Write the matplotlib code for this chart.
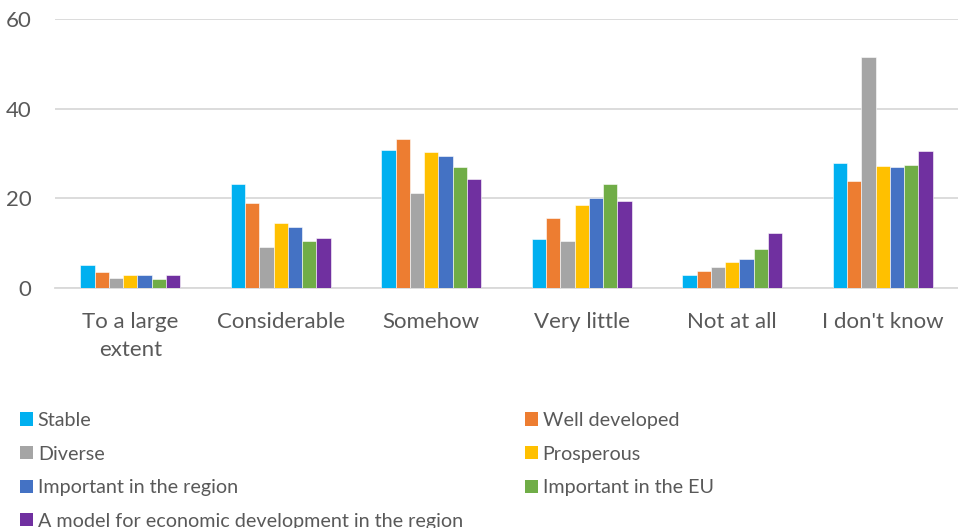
import matplotlib
matplotlib.use("Agg")
import matplotlib.pyplot as plt
import numpy as np
from matplotlib.patches import Patch

categories = ["To a large\nextent", "Considerable", "Somehow", "Very little", "Not at all", "I don't know"]
series_names = ["Stable", "Well developed", "Diverse", "Prosperous",
                "Important in the region", "Important in the EU",
                "A model for economic development in the region"]
stable       = [5.1, 23.1, 30.8, 10.9, 2.8, 27.8]
well_dev     = [3.6, 18.9, 33.3, 15.6, 3.8, 23.9]
diverse      = [2.2,  9.2, 21.1, 10.5, 4.7, 51.6]
prosperous   = [2.8, 14.4, 30.3, 18.6, 5.8, 27.3]
imp_region   = [2.8, 13.6, 29.5, 20.1, 6.4, 27.0]
imp_eu       = [2.0, 10.4, 27.1, 23.3, 8.7, 27.4]
model_dev    = [2.8, 11.1, 24.4, 19.3, 12.2, 30.5]
yticks = [0, 20, 40, 60]

colors = ["#00B0F0", "#ED7D31", "#A5A5A5", "#FFC000", "#4472C4", "#70AD47", "#7030A0"]
series = [stable, well_dev, diverse, prosperous, imp_region, imp_eu, model_dev]

plt.rcParams['font.family'] = ['Lato', 'DejaVu Sans']
fig = plt.figure(figsize=(9.58, 5.28), dpi=100)
ax = fig.add_axes([55/958, 1-288/528, 903/958, (288-19)/528])

x = np.arange(len(categories))
n = len(series)
bw = 0.095
for i, (vals, c) in enumerate(zip(series, colors)):
    ax.bar(x + (i - (n-1)/2) * bw, vals, bw, color=c, edgecolor='white', linewidth=0.4, zorder=3)

ax.set_xlim(-0.5, len(categories) - 0.5)
ax.set_ylim(0, 60)
ax.set_yticks(yticks)
ax.set_xticks(x)
ax.set_xticklabels(categories, fontsize=16, color='#595959', linespacing=1.5)
ax.tick_params(axis='y', labelsize=16, labelcolor='#595959', length=0, pad=17)
ax.tick_params(axis='x', length=0, pad=17)
ax.grid(axis='y', color='#D9D9D9', linewidth=1.3, zorder=0)
for s in ['top', 'right', 'left']:
    ax.spines[s].set_visible(False)
ax.spines['bottom'].set_color('#D9D9D9')
ax.spines['bottom'].set_linewidth(1.3)

handles = [Patch(facecolor=c) for c in colors]
order1 = [0, 2, 4, 6]
order2 = [1, 3, 5]
common = dict(loc='upper left', frameon=False, fontsize=14.2, labelcolor='#595959',
              handlelength=0.65, handleheight=0.65, handletextpad=0.25,
              labelspacing=0.84, borderaxespad=0, borderpad=0)
fig.legend([handles[i] for i in order1], [series_names[i] for i in order1],
           bbox_to_anchor=(20/958, 1-412/528), **common)
fig.legend([handles[i] for i in order2], [series_names[i] for i in order2],
           bbox_to_anchor=(525/958, 1-412/528), **common)

fig.savefig("out.png", dpi=100)
